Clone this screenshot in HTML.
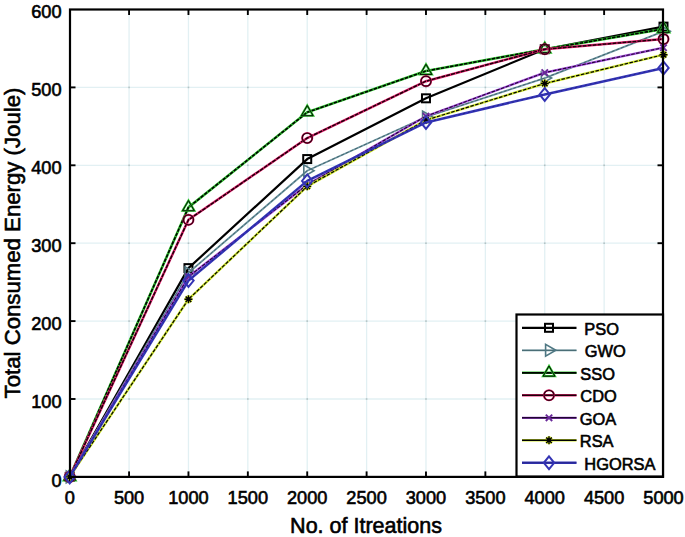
<!DOCTYPE html>
<html><head><meta charset="utf-8"><style>
html,body{margin:0;padding:0;background:#fff;width:685px;height:537px;overflow:hidden}
svg{display:block}
text{font-family:"Liberation Sans",sans-serif;fill:#000;stroke:#000;stroke-width:0.6px}
.tk{font-size:18.2px}
.lb{font-size:21.5px}
.lb2{font-size:22.2px}
.lg{font-size:16.4px}
</style></head><body>
<svg width="685" height="537" viewBox="0 0 685 537">
<rect width="685" height="537" fill="#fff"/>
<line x1="129.08" y1="10" x2="129.08" y2="476" stroke="#e2f0f3" stroke-width="1.3"/>
<line x1="188.46" y1="10" x2="188.46" y2="476" stroke="#e2f0f3" stroke-width="1.3"/>
<line x1="247.84" y1="10" x2="247.84" y2="476" stroke="#e2f0f3" stroke-width="1.3"/>
<line x1="307.22" y1="10" x2="307.22" y2="476" stroke="#e2f0f3" stroke-width="1.3"/>
<line x1="366.60" y1="10" x2="366.60" y2="476" stroke="#e2f0f3" stroke-width="1.3"/>
<line x1="425.98" y1="10" x2="425.98" y2="476" stroke="#e2f0f3" stroke-width="1.3"/>
<line x1="485.36" y1="10" x2="485.36" y2="476" stroke="#e2f0f3" stroke-width="1.3"/>
<line x1="544.74" y1="10" x2="544.74" y2="476" stroke="#e2f0f3" stroke-width="1.3"/>
<line x1="604.12" y1="10" x2="604.12" y2="476" stroke="#e2f0f3" stroke-width="1.3"/>
<line x1="71" y1="399.00" x2="662" y2="399.00" stroke="#e2f0f3" stroke-width="1.3"/>
<line x1="71" y1="321.10" x2="662" y2="321.10" stroke="#e2f0f3" stroke-width="1.3"/>
<line x1="71" y1="243.20" x2="662" y2="243.20" stroke="#e2f0f3" stroke-width="1.3"/>
<line x1="71" y1="165.30" x2="662" y2="165.30" stroke="#e2f0f3" stroke-width="1.3"/>
<line x1="71" y1="87.40" x2="662" y2="87.40" stroke="#e2f0f3" stroke-width="1.3"/>
<rect x="128.28" y="398.20" width="1.6" height="1.6" fill="#b4c2c4"/>
<rect x="128.28" y="320.30" width="1.6" height="1.6" fill="#b4c2c4"/>
<rect x="128.28" y="242.40" width="1.6" height="1.6" fill="#b4c2c4"/>
<rect x="128.28" y="164.50" width="1.6" height="1.6" fill="#b4c2c4"/>
<rect x="128.28" y="86.60" width="1.6" height="1.6" fill="#b4c2c4"/>
<rect x="187.66" y="398.20" width="1.6" height="1.6" fill="#b4c2c4"/>
<rect x="187.66" y="320.30" width="1.6" height="1.6" fill="#b4c2c4"/>
<rect x="187.66" y="242.40" width="1.6" height="1.6" fill="#b4c2c4"/>
<rect x="187.66" y="164.50" width="1.6" height="1.6" fill="#b4c2c4"/>
<rect x="187.66" y="86.60" width="1.6" height="1.6" fill="#b4c2c4"/>
<rect x="247.04" y="398.20" width="1.6" height="1.6" fill="#b4c2c4"/>
<rect x="247.04" y="320.30" width="1.6" height="1.6" fill="#b4c2c4"/>
<rect x="247.04" y="242.40" width="1.6" height="1.6" fill="#b4c2c4"/>
<rect x="247.04" y="164.50" width="1.6" height="1.6" fill="#b4c2c4"/>
<rect x="247.04" y="86.60" width="1.6" height="1.6" fill="#b4c2c4"/>
<rect x="306.42" y="398.20" width="1.6" height="1.6" fill="#b4c2c4"/>
<rect x="306.42" y="320.30" width="1.6" height="1.6" fill="#b4c2c4"/>
<rect x="306.42" y="242.40" width="1.6" height="1.6" fill="#b4c2c4"/>
<rect x="306.42" y="164.50" width="1.6" height="1.6" fill="#b4c2c4"/>
<rect x="306.42" y="86.60" width="1.6" height="1.6" fill="#b4c2c4"/>
<rect x="365.80" y="398.20" width="1.6" height="1.6" fill="#b4c2c4"/>
<rect x="365.80" y="320.30" width="1.6" height="1.6" fill="#b4c2c4"/>
<rect x="365.80" y="242.40" width="1.6" height="1.6" fill="#b4c2c4"/>
<rect x="365.80" y="164.50" width="1.6" height="1.6" fill="#b4c2c4"/>
<rect x="365.80" y="86.60" width="1.6" height="1.6" fill="#b4c2c4"/>
<rect x="425.18" y="398.20" width="1.6" height="1.6" fill="#b4c2c4"/>
<rect x="425.18" y="320.30" width="1.6" height="1.6" fill="#b4c2c4"/>
<rect x="425.18" y="242.40" width="1.6" height="1.6" fill="#b4c2c4"/>
<rect x="425.18" y="164.50" width="1.6" height="1.6" fill="#b4c2c4"/>
<rect x="425.18" y="86.60" width="1.6" height="1.6" fill="#b4c2c4"/>
<rect x="484.56" y="398.20" width="1.6" height="1.6" fill="#b4c2c4"/>
<rect x="484.56" y="320.30" width="1.6" height="1.6" fill="#b4c2c4"/>
<rect x="484.56" y="242.40" width="1.6" height="1.6" fill="#b4c2c4"/>
<rect x="484.56" y="164.50" width="1.6" height="1.6" fill="#b4c2c4"/>
<rect x="484.56" y="86.60" width="1.6" height="1.6" fill="#b4c2c4"/>
<rect x="543.94" y="398.20" width="1.6" height="1.6" fill="#b4c2c4"/>
<rect x="543.94" y="320.30" width="1.6" height="1.6" fill="#b4c2c4"/>
<rect x="543.94" y="242.40" width="1.6" height="1.6" fill="#b4c2c4"/>
<rect x="543.94" y="164.50" width="1.6" height="1.6" fill="#b4c2c4"/>
<rect x="543.94" y="86.60" width="1.6" height="1.6" fill="#b4c2c4"/>
<rect x="603.32" y="398.20" width="1.6" height="1.6" fill="#b4c2c4"/>
<rect x="603.32" y="320.30" width="1.6" height="1.6" fill="#b4c2c4"/>
<rect x="603.32" y="242.40" width="1.6" height="1.6" fill="#b4c2c4"/>
<rect x="603.32" y="164.50" width="1.6" height="1.6" fill="#b4c2c4"/>
<rect x="603.32" y="86.60" width="1.6" height="1.6" fill="#b4c2c4"/>
<line x1="129.08" y1="476.90" x2="129.08" y2="471.40" stroke="#000" stroke-width="1.9"/>
<line x1="129.08" y1="9.5" x2="129.08" y2="15" stroke="#000" stroke-width="1.9"/>
<line x1="188.46" y1="476.90" x2="188.46" y2="471.40" stroke="#000" stroke-width="1.9"/>
<line x1="188.46" y1="9.5" x2="188.46" y2="15" stroke="#000" stroke-width="1.9"/>
<line x1="247.84" y1="476.90" x2="247.84" y2="471.40" stroke="#000" stroke-width="1.9"/>
<line x1="247.84" y1="9.5" x2="247.84" y2="15" stroke="#000" stroke-width="1.9"/>
<line x1="307.22" y1="476.90" x2="307.22" y2="471.40" stroke="#000" stroke-width="1.9"/>
<line x1="307.22" y1="9.5" x2="307.22" y2="15" stroke="#000" stroke-width="1.9"/>
<line x1="366.60" y1="476.90" x2="366.60" y2="471.40" stroke="#000" stroke-width="1.9"/>
<line x1="366.60" y1="9.5" x2="366.60" y2="15" stroke="#000" stroke-width="1.9"/>
<line x1="425.98" y1="476.90" x2="425.98" y2="471.40" stroke="#000" stroke-width="1.9"/>
<line x1="425.98" y1="9.5" x2="425.98" y2="15" stroke="#000" stroke-width="1.9"/>
<line x1="485.36" y1="476.90" x2="485.36" y2="471.40" stroke="#000" stroke-width="1.9"/>
<line x1="485.36" y1="9.5" x2="485.36" y2="15" stroke="#000" stroke-width="1.9"/>
<line x1="544.74" y1="476.90" x2="544.74" y2="471.40" stroke="#000" stroke-width="1.9"/>
<line x1="544.74" y1="9.5" x2="544.74" y2="15" stroke="#000" stroke-width="1.9"/>
<line x1="604.12" y1="476.90" x2="604.12" y2="471.40" stroke="#000" stroke-width="1.9"/>
<line x1="604.12" y1="9.5" x2="604.12" y2="15" stroke="#000" stroke-width="1.9"/>
<line x1="70" y1="399.00" x2="75.5" y2="399.00" stroke="#000" stroke-width="1.9"/>
<line x1="663" y1="399.00" x2="657.5" y2="399.00" stroke="#000" stroke-width="1.9"/>
<line x1="70" y1="321.10" x2="75.5" y2="321.10" stroke="#000" stroke-width="1.9"/>
<line x1="663" y1="321.10" x2="657.5" y2="321.10" stroke="#000" stroke-width="1.9"/>
<line x1="70" y1="243.20" x2="75.5" y2="243.20" stroke="#000" stroke-width="1.9"/>
<line x1="663" y1="243.20" x2="657.5" y2="243.20" stroke="#000" stroke-width="1.9"/>
<line x1="70" y1="165.30" x2="75.5" y2="165.30" stroke="#000" stroke-width="1.9"/>
<line x1="663" y1="165.30" x2="657.5" y2="165.30" stroke="#000" stroke-width="1.9"/>
<line x1="70" y1="87.40" x2="75.5" y2="87.40" stroke="#000" stroke-width="1.9"/>
<line x1="663" y1="87.40" x2="657.5" y2="87.40" stroke="#000" stroke-width="1.9"/>
<polyline points="69.70,476.90 188.46,268.13 307.22,159.07 425.98,98.31 544.74,49.23 663.50,26.64" fill="none" stroke="#000000" stroke-width="2.2" stroke-linejoin="round"/>
<rect x="65.70" y="472.90" width="8" height="8" fill="none" stroke="#000" stroke-width="2"/>
<rect x="184.46" y="264.13" width="8" height="8" fill="none" stroke="#000" stroke-width="2"/>
<rect x="303.22" y="155.07" width="8" height="8" fill="none" stroke="#000" stroke-width="2"/>
<rect x="421.98" y="94.31" width="8" height="8" fill="none" stroke="#000" stroke-width="2"/>
<rect x="540.74" y="45.23" width="8" height="8" fill="none" stroke="#000" stroke-width="2"/>
<rect x="659.50" y="22.64" width="8" height="8" fill="none" stroke="#000" stroke-width="2"/>
<polyline points="69.70,476.90 188.46,272.80 307.22,170.75 425.98,117.00 544.74,78.05 663.50,31.31" fill="none" stroke="#6a94a0" stroke-width="1.8" stroke-linejoin="round"/><polyline points="69.70,476.90 188.46,272.80 307.22,170.75 425.98,117.00 544.74,78.05 663.50,31.31" fill="none" stroke="#3a5860" stroke-width="0.8" stroke-linejoin="round" stroke-dasharray="3 2"/>
<polygon points="76.50,476.90 66.30,471.01 66.30,482.79" fill="none" stroke="#4f7884" stroke-width="1.6"/>
<polygon points="195.26,272.80 185.06,266.91 185.06,278.69" fill="none" stroke="#4f7884" stroke-width="1.6"/>
<polygon points="314.02,170.75 303.82,164.86 303.82,176.64" fill="none" stroke="#4f7884" stroke-width="1.6"/>
<polygon points="432.78,117.00 422.58,111.11 422.58,122.89" fill="none" stroke="#4f7884" stroke-width="1.6"/>
<polygon points="551.54,78.05 541.34,72.16 541.34,83.94" fill="none" stroke="#4f7884" stroke-width="1.6"/>
<polygon points="670.30,31.31 660.10,25.42 660.10,37.20" fill="none" stroke="#4f7884" stroke-width="1.6"/>
<polyline points="69.70,476.90 188.46,207.37 307.22,112.33 425.98,71.04 544.74,49.23 663.50,28.97" fill="none" stroke="#2cc02c" stroke-width="2.6" stroke-linejoin="round"/><polyline points="69.70,476.90 188.46,207.37 307.22,112.33 425.98,71.04 544.74,49.23 663.50,28.97" fill="none" stroke="#000000" stroke-width="1.6" stroke-linejoin="round" stroke-dasharray="3.5 1.2"/>
<polygon points="69.70,470.10 63.81,480.30 75.59,480.30" fill="none" stroke="#2cc02c" stroke-width="2.2"/><polygon points="69.70,470.10 63.81,480.30 75.59,480.30" fill="none" stroke="#000" stroke-width="0.9"/>
<polygon points="188.46,200.57 182.57,210.77 194.35,210.77" fill="none" stroke="#2cc02c" stroke-width="2.2"/><polygon points="188.46,200.57 182.57,210.77 194.35,210.77" fill="none" stroke="#000" stroke-width="0.9"/>
<polygon points="307.22,105.53 301.33,115.73 313.11,115.73" fill="none" stroke="#2cc02c" stroke-width="2.2"/><polygon points="307.22,105.53 301.33,115.73 313.11,115.73" fill="none" stroke="#000" stroke-width="0.9"/>
<polygon points="425.98,64.24 420.09,74.44 431.87,74.44" fill="none" stroke="#2cc02c" stroke-width="2.2"/><polygon points="425.98,64.24 420.09,74.44 431.87,74.44" fill="none" stroke="#000" stroke-width="0.9"/>
<polygon points="544.74,42.43 538.85,52.63 550.63,52.63" fill="none" stroke="#2cc02c" stroke-width="2.2"/><polygon points="544.74,42.43 538.85,52.63 550.63,52.63" fill="none" stroke="#000" stroke-width="0.9"/>
<polygon points="663.50,22.17 657.61,32.37 669.39,32.37" fill="none" stroke="#2cc02c" stroke-width="2.2"/><polygon points="663.50,22.17 657.61,32.37 669.39,32.37" fill="none" stroke="#000" stroke-width="0.9"/>
<polyline points="69.70,476.90 188.46,219.83 307.22,138.03 425.98,81.17 544.74,49.23 663.50,39.10" fill="none" stroke="#e82070" stroke-width="2.5" stroke-linejoin="round"/><polyline points="69.70,476.90 188.46,219.83 307.22,138.03 425.98,81.17 544.74,49.23 663.50,39.10" fill="none" stroke="#1a0008" stroke-width="1.5" stroke-linejoin="round" stroke-dasharray="4 1"/>
<circle cx="69.70" cy="476.90" r="5.0" fill="none" stroke="#e02068" stroke-width="2.1"/><circle cx="69.70" cy="476.90" r="5.0" fill="none" stroke="#300012" stroke-width="1.3"/>
<circle cx="188.46" cy="219.83" r="5.0" fill="none" stroke="#e02068" stroke-width="2.1"/><circle cx="188.46" cy="219.83" r="5.0" fill="none" stroke="#300012" stroke-width="1.3"/>
<circle cx="307.22" cy="138.03" r="5.0" fill="none" stroke="#e02068" stroke-width="2.1"/><circle cx="307.22" cy="138.03" r="5.0" fill="none" stroke="#300012" stroke-width="1.3"/>
<circle cx="425.98" cy="81.17" r="5.0" fill="none" stroke="#e02068" stroke-width="2.1"/><circle cx="425.98" cy="81.17" r="5.0" fill="none" stroke="#300012" stroke-width="1.3"/>
<circle cx="544.74" cy="49.23" r="5.0" fill="none" stroke="#e02068" stroke-width="2.1"/><circle cx="544.74" cy="49.23" r="5.0" fill="none" stroke="#300012" stroke-width="1.3"/>
<circle cx="663.50" cy="39.10" r="5.0" fill="none" stroke="#e02068" stroke-width="2.1"/><circle cx="663.50" cy="39.10" r="5.0" fill="none" stroke="#300012" stroke-width="1.3"/>
<polyline points="69.70,476.90 188.46,276.70 307.22,184.77 425.98,116.22 544.74,72.60 663.50,47.67" fill="none" stroke="#a048d8" stroke-width="2.3" stroke-linejoin="round"/><polyline points="69.70,476.90 188.46,276.70 307.22,184.77 425.98,116.22 544.74,72.60 663.50,47.67" fill="none" stroke="#200630" stroke-width="1.1" stroke-linejoin="round" stroke-dasharray="3.5 1.5"/>
<path d="M66.50,473.70L72.90,480.10M66.50,480.10L72.90,473.70" stroke="#6a2a9a" stroke-width="1.9"/>
<path d="M185.26,273.50L191.66,279.90M185.26,279.90L191.66,273.50" stroke="#6a2a9a" stroke-width="1.9"/>
<path d="M304.02,181.57L310.42,187.97M304.02,187.97L310.42,181.57" stroke="#6a2a9a" stroke-width="1.9"/>
<path d="M422.78,113.02L429.18,119.42M422.78,119.42L429.18,113.02" stroke="#6a2a9a" stroke-width="1.9"/>
<path d="M541.54,69.40L547.94,75.80M541.54,75.80L547.94,69.40" stroke="#6a2a9a" stroke-width="1.9"/>
<path d="M660.30,44.47L666.70,50.87M660.30,50.87L666.70,44.47" stroke="#6a2a9a" stroke-width="1.9"/>
<polyline points="69.70,476.90 188.46,299.29 307.22,186.33 425.98,120.12 544.74,83.50 663.50,54.68" fill="none" stroke="#cde42a" stroke-width="2.4" stroke-linejoin="round"/><polyline points="69.70,476.90 188.46,299.29 307.22,186.33 425.98,120.12 544.74,83.50 663.50,54.68" fill="none" stroke="#000000" stroke-width="1.2" stroke-linejoin="round" stroke-dasharray="3.5 1.5"/>
<path d="M65.70,476.90L73.70,476.90M69.70,472.90L69.70,480.90M66.90,474.10L72.50,479.70M66.90,479.70L72.50,474.10" stroke="#d8ec30" stroke-width="2.6"/><path d="M65.70,476.90L73.70,476.90M69.70,472.90L69.70,480.90M66.90,474.10L72.50,479.70M66.90,479.70L72.50,474.10" stroke="#000" stroke-width="1.4"/>
<path d="M184.46,299.29L192.46,299.29M188.46,295.29L188.46,303.29M185.66,296.49L191.26,302.09M185.66,302.09L191.26,296.49" stroke="#d8ec30" stroke-width="2.6"/><path d="M184.46,299.29L192.46,299.29M188.46,295.29L188.46,303.29M185.66,296.49L191.26,302.09M185.66,302.09L191.26,296.49" stroke="#000" stroke-width="1.4"/>
<path d="M303.22,186.33L311.22,186.33M307.22,182.33L307.22,190.33M304.42,183.53L310.02,189.13M304.42,189.13L310.02,183.53" stroke="#d8ec30" stroke-width="2.6"/><path d="M303.22,186.33L311.22,186.33M307.22,182.33L307.22,190.33M304.42,183.53L310.02,189.13M304.42,189.13L310.02,183.53" stroke="#000" stroke-width="1.4"/>
<path d="M421.98,120.12L429.98,120.12M425.98,116.12L425.98,124.12M423.18,117.32L428.78,122.92M423.18,122.92L428.78,117.32" stroke="#d8ec30" stroke-width="2.6"/><path d="M421.98,120.12L429.98,120.12M425.98,116.12L425.98,124.12M423.18,117.32L428.78,122.92M423.18,122.92L428.78,117.32" stroke="#000" stroke-width="1.4"/>
<path d="M540.74,83.50L548.74,83.50M544.74,79.50L544.74,87.50M541.94,80.70L547.54,86.30M541.94,86.30L547.54,80.70" stroke="#d8ec30" stroke-width="2.6"/><path d="M540.74,83.50L548.74,83.50M544.74,79.50L544.74,87.50M541.94,80.70L547.54,86.30M541.94,86.30L547.54,80.70" stroke="#000" stroke-width="1.4"/>
<path d="M659.50,54.68L667.50,54.68M663.50,50.68L663.50,58.68M660.70,51.88L666.30,57.48M660.70,57.48L666.30,51.88" stroke="#d8ec30" stroke-width="2.6"/><path d="M659.50,54.68L667.50,54.68M663.50,50.68L663.50,58.68M660.70,51.88L666.30,57.48M660.70,57.48L666.30,51.88" stroke="#000" stroke-width="1.4"/>
<polyline points="69.70,476.90 188.46,280.59 307.22,180.88 425.98,122.45 544.74,94.41 663.50,67.92" fill="none" stroke="#3434b8" stroke-width="2.5" stroke-linejoin="round"/><polyline points="69.70,476.90 188.46,280.59 307.22,180.88 425.98,122.45 544.74,94.41 663.50,67.92" fill="none" stroke="#22227a" stroke-width="0.8" stroke-linejoin="round" stroke-dasharray="2 3"/>
<polygon points="69.70,470.50 74.90,476.90 69.70,483.30 64.50,476.90" fill="none" stroke="#3434b4" stroke-width="2"/>
<polygon points="188.46,274.19 193.66,280.59 188.46,286.99 183.26,280.59" fill="none" stroke="#3434b4" stroke-width="2"/>
<polygon points="307.22,174.48 312.42,180.88 307.22,187.28 302.02,180.88" fill="none" stroke="#3434b4" stroke-width="2"/>
<polygon points="425.98,116.05 431.18,122.45 425.98,128.85 420.78,122.45" fill="none" stroke="#3434b4" stroke-width="2"/>
<polygon points="544.74,88.01 549.94,94.41 544.74,100.81 539.54,94.41" fill="none" stroke="#3434b4" stroke-width="2"/>
<polygon points="663.50,61.52 668.70,67.92 663.50,74.32 658.30,67.92" fill="none" stroke="#3434b4" stroke-width="2"/>
<rect x="70" y="9.5" width="593" height="467.40" fill="none" stroke="#000" stroke-width="2.2"/>
<text x="61.6" y="486.50" text-anchor="end" class="tk">0</text>
<text x="61.6" y="408.40" text-anchor="end" class="tk">100</text>
<text x="61.6" y="330.30" text-anchor="end" class="tk">200</text>
<text x="61.6" y="252.20" text-anchor="end" class="tk">300</text>
<text x="61.6" y="174.10" text-anchor="end" class="tk">400</text>
<text x="61.6" y="96.00" text-anchor="end" class="tk">500</text>
<text x="61.6" y="17.90" text-anchor="end" class="tk">600</text>
<text x="69.70" y="503.6" text-anchor="middle" class="tk">0</text>
<text x="129.08" y="503.6" text-anchor="middle" class="tk">500</text>
<text x="188.46" y="503.6" text-anchor="middle" class="tk">1000</text>
<text x="247.84" y="503.6" text-anchor="middle" class="tk">1500</text>
<text x="307.22" y="503.6" text-anchor="middle" class="tk">2000</text>
<text x="366.60" y="503.6" text-anchor="middle" class="tk">2500</text>
<text x="425.98" y="503.6" text-anchor="middle" class="tk">3000</text>
<text x="485.36" y="503.6" text-anchor="middle" class="tk">3500</text>
<text x="544.74" y="503.6" text-anchor="middle" class="tk">4000</text>
<text x="604.12" y="503.6" text-anchor="middle" class="tk">4500</text>
<text x="663.50" y="503.6" text-anchor="middle" class="tk">5000</text>
<text x="366" y="533.4" text-anchor="middle" class="lb">No. of Itreations</text>
<text transform="translate(20.4,243.0) rotate(-90)" text-anchor="middle" class="lb2">Total Consumed Energy (Joule)</text>
<rect x="516.5" y="314.5" width="146.5" height="162" fill="#fff" stroke="#000" stroke-width="2.2"/>
<polyline points="522.00,327.80 576.50,327.80" fill="none" stroke="#000000" stroke-width="2.2" stroke-linejoin="round"/>
<rect x="545.00" y="323.80" width="8" height="8" fill="none" stroke="#000" stroke-width="2"/>
<text x="584.3" y="334.90" class="lg">PSO</text>
<polyline points="522.00,350.30 576.50,350.30" fill="none" stroke="#6a94a0" stroke-width="1.8" stroke-linejoin="round"/><polyline points="522.00,350.30 576.50,350.30" fill="none" stroke="#3a5860" stroke-width="0.8" stroke-linejoin="round"/>
<polygon points="555.80,350.30 545.60,344.41 545.60,356.19" fill="none" stroke="#4f7884" stroke-width="1.6"/>
<text x="584.8" y="357.40" class="lg">GWO</text>
<polyline points="522.00,372.80 576.50,372.80" fill="none" stroke="#2cc02c" stroke-width="2.6" stroke-linejoin="round"/><polyline points="522.00,372.80 576.50,372.80" fill="none" stroke="#000000" stroke-width="1.7000000000000002" stroke-linejoin="round"/>
<polygon points="549.00,366.00 543.11,376.20 554.89,376.20" fill="none" stroke="#2cc02c" stroke-width="2.2"/><polygon points="549.00,366.00 543.11,376.20 554.89,376.20" fill="none" stroke="#000" stroke-width="0.9"/>
<text x="580.3" y="379.90" class="lg">SSO</text>
<polyline points="522.00,395.30 576.50,395.30" fill="none" stroke="#e82070" stroke-width="2.5" stroke-linejoin="round"/><polyline points="522.00,395.30 576.50,395.30" fill="none" stroke="#1a0008" stroke-width="1.6" stroke-linejoin="round"/>
<circle cx="549.00" cy="395.30" r="5.0" fill="none" stroke="#e02068" stroke-width="2.1"/><circle cx="549.00" cy="395.30" r="5.0" fill="none" stroke="#300012" stroke-width="1.3"/>
<text x="580.3" y="402.40" class="lg">CDO</text>
<polyline points="522.00,417.80 576.50,417.80" fill="none" stroke="#a048d8" stroke-width="2.3" stroke-linejoin="round"/><polyline points="522.00,417.80 576.50,417.80" fill="none" stroke="#200630" stroke-width="1.4" stroke-linejoin="round"/>
<path d="M545.80,414.60L552.20,421.00M545.80,421.00L552.20,414.60" stroke="#6a2a9a" stroke-width="1.9"/>
<text x="579.8" y="424.90" class="lg">GOA</text>
<polyline points="522.00,440.30 576.50,440.30" fill="none" stroke="#cde42a" stroke-width="2.4" stroke-linejoin="round"/><polyline points="522.00,440.30 576.50,440.30" fill="none" stroke="#000000" stroke-width="1.5" stroke-linejoin="round"/>
<path d="M545.00,440.30L553.00,440.30M549.00,436.30L549.00,444.30M546.20,437.50L551.80,443.10M546.20,443.10L551.80,437.50" stroke="#d8ec30" stroke-width="2.6"/><path d="M545.00,440.30L553.00,440.30M549.00,436.30L549.00,444.30M546.20,437.50L551.80,443.10M546.20,443.10L551.80,437.50" stroke="#000" stroke-width="1.4"/>
<text x="579.8" y="447.40" class="lg">RSA</text>
<polyline points="522.00,462.80 576.50,462.80" fill="none" stroke="#3434b8" stroke-width="2.5" stroke-linejoin="round"/><polyline points="522.00,462.80 576.50,462.80" fill="none" stroke="#22227a" stroke-width="0.8" stroke-linejoin="round"/>
<polygon points="549.00,456.40 554.20,462.80 549.00,469.20 543.80,462.80" fill="none" stroke="#3434b4" stroke-width="2"/>
<text x="584.3" y="469.90" class="lg">HGORSA</text>
</svg>
</body></html>
